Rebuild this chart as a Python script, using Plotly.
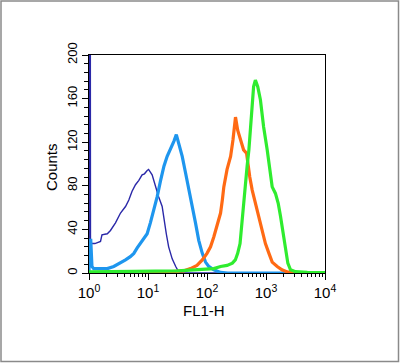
import plotly.graph_objects as go

# ---- data (log10 of FL1-H, counts) ----
navy_logx = [0.0, 0.0, 0.02, 0.025, 0.10, 0.195, 0.22, 0.31, 0.364, 0.449, 0.534, 0.619, 0.675,
             0.73, 0.788, 0.845, 0.90, 0.94, 0.986, 1.01, 1.07, 1.127, 1.18, 1.24, 1.27,
             1.31, 1.35, 1.41, 1.47, 1.52, 1.58, 2.0, 4.0]
navy_counts = [0, 400, 400, 27, 27, 29, 35, 36, 39, 46, 55, 61, 67,
               75, 81, 85, 90, 91, 94, 95, 90, 79, 70, 61, 49,
               36, 24, 13, 6, 1, 0, 0, 0]

blue_logx = [0.0, 0.005, 0.03, 0.05, 0.08, 0.195, 0.31, 0.42, 0.534, 0.619, 0.70, 0.76, 0.817,
             0.873, 0.93, 0.986, 1.04, 1.10, 1.156, 1.21, 1.27, 1.325, 1.38, 1.44, 1.48,
             1.52, 1.58, 1.636, 1.69, 1.75, 1.805, 1.86, 1.92, 1.975, 2.03, 2.115, 2.23,
             2.35, 4.0]
blue_counts = [0, 30, 30, 6, 4, 4, 4, 6, 9, 12, 15, 18, 23,
               27, 32, 36, 46, 58, 70, 84, 98, 107, 113, 121, 127,
               119, 107, 92, 76, 61, 46, 30, 18, 10, 6, 3, 0.5,
               0, 0]

orange_logx = [0.87, 1.2, 1.61, 1.72, 1.83, 1.92, 2.0, 2.06, 2.115, 2.17, 2.23, 2.26, 2.285,
               2.34, 2.40, 2.44, 2.466, 2.483, 2.52, 2.567, 2.62, 2.67, 2.69, 2.725, 2.766,
               2.82, 2.88, 2.935, 2.99, 3.05, 3.105, 3.19, 3.27, 3.36, 3.47, 4.0]
orange_counts = [0.3, 0.5, 2, 4, 7, 12, 18, 24, 33, 43, 55, 67, 79,
                 95, 107, 122, 134, 143, 131, 122, 113, 110, 101, 88, 76,
                 64, 52, 39, 27, 18, 10, 6, 3, 1, 0, 0]

green_logx = [0.0, 0.87, 1.5, 2.115, 2.23, 2.34, 2.43, 2.48, 2.52, 2.56, 2.58, 2.60, 2.62,
              2.65, 2.68, 2.71, 2.74, 2.766, 2.79, 2.82, 2.86, 2.905, 2.96, 3.02, 3.076,
              3.105, 3.16, 3.207, 3.246, 3.29, 3.33, 3.37, 3.415, 3.5, 3.7, 4.0]
green_counts = [1, 1.2, 2, 4, 6, 7, 9, 12, 18, 27, 39, 55, 70,
                85, 98, 113, 134, 159, 171, 177, 171, 159, 134, 113, 92,
                79, 73, 64, 52, 36, 21, 9, 3, 1.2, 0.6, 0.3]

x_tick_exps = [0, 1, 2, 3, 4]
y_ticks = [0, 40, 80, 120, 160, 200]

series = [
    ("navy", navy_logx, navy_counts, "#2a28a8", 1.4),
    ("blue", blue_logx, blue_counts, "#1e96ee", 3.2),
    ("orange", orange_logx, orange_counts, "#ff6a14", 3.2),
    ("green", green_logx, green_counts, "#2fec2f", 3.2),
]

fig = go.Figure()
for name, lx, cnt, col, w in series:
    fig.add_trace(go.Scatter(
        x=[10 ** v for v in lx], y=cnt, mode="lines", name=name,
        line=dict(color=col, width=w), showlegend=False, hoverinfo="skip"))

minor_vals = [m * 10 ** e for e in range(4) for m in range(2, 10)]

L, R, T, B = 89, 75, 55, 90
W, H = 400, 363
pw, ph = W - L - R, H - T - B

fig.update_layout(
    width=W, height=H,
    margin=dict(l=L, r=R, t=T, b=B, pad=0),
    paper_bgcolor="white", plot_bgcolor="white",
    font=dict(family="Liberation Sans, Arial, sans-serif", color="black"),
    xaxis=dict(
        type="log", range=[0, 4], showgrid=False, zeroline=False,
        showline=True, linecolor="black", linewidth=1.3, mirror=True,
        ticks="outside", ticklen=6, tickwidth=1.3, tickcolor="black",
        tickvals=[10 ** e for e in x_tick_exps],
        ticktext=["10<sup>%d</sup>" % e for e in x_tick_exps],
        tickfont=dict(size=15),
        minor=dict(tickvals=minor_vals, ticks="outside", ticklen=3,
                   tickwidth=1, tickcolor="black", showgrid=False),
    ),
    yaxis=dict(
        range=[0, 200], showgrid=False, zeroline=False,
        showline=True, linecolor="black", linewidth=1.3, mirror=True,
        ticks="outside", ticklen=6, tickwidth=1.3, tickcolor="black",
        tickvals=y_ticks, tickangle=-90, tickfont=dict(size=13),
        minor=dict(dtick=8, ticks="outside", ticklen=4, tickwidth=1,
                   tickcolor="black", showgrid=False),
    ),
    annotations=[
        dict(text="Counts", xref="paper", yref="paper",
             x=(51 - L) / pw, y=(H - B - 167) / ph, textangle=-90,
             showarrow=False, font=dict(size=15), xanchor="center", yanchor="middle"),
        dict(text="FL1-H", xref="paper", yref="paper",
             x=(204 - L) / pw, y=(H - B - 310) / ph,
             showarrow=False, font=dict(size=15), xanchor="center", yanchor="middle"),
    ],
    shapes=[
        dict(type="rect", xref="paper", yref="paper",
             x0=(1 - L) / pw, x1=(398.5 - L) / pw,
             y0=(H - B - 361.5) / ph, y1=(H - B - 1) / ph,
             line=dict(color="#8a8a8a", width=1.5), layer="below"),
    ],
)

fig.write_html("out.html", config={"displayModeBar": False},
               post_script="document.body.style.margin='0px';document.body.style.overflow='hidden';")
